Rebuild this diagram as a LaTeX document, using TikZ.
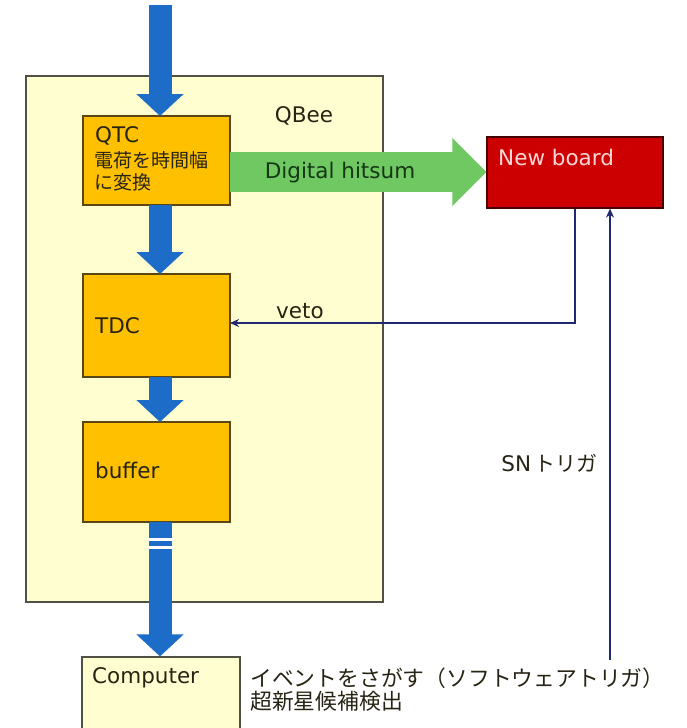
\documentclass[tikz,border=0pt]{standalone}
\usepackage{fontspec}
\setmainfont{DejaVu Sans}
\newfontfamily\jp{Noto Sans CJK JP}
\usetikzlibrary{arrows.meta}
\definecolor{qbeeF}{RGB}{255,254,208}
\definecolor{qbeeB}{RGB}{80,80,70}
\definecolor{orangeF}{RGB}{255,192,0}
\definecolor{orangeB}{RGB}{90,70,20}
\definecolor{blueA}{RGB}{28,108,200}
\definecolor{greenA}{RGB}{112,200,98}
\definecolor{redF}{RGB}{204,0,0}
\definecolor{redB}{RGB}{70,0,0}
\definecolor{navy}{RGB}{32,42,110}
\definecolor{txt}{RGB}{40,36,20}
\begin{document}
\begin{tikzpicture}[x=1pt,y=-1pt,
  lat/.style={font=\fontsize{21.5}{24}\selectfont, text=txt, inner sep=0pt},
  jtx/.style={font=\jp\fontsize{21.8}{24}\selectfont, text=txt, inner sep=0pt},
  box/.style={draw=orangeB, line width=1.2pt, fill=orangeF, inner sep=0pt, outer sep=0pt},
  bluearrow/.style={draw=blueA, line width=23pt, -{Triangle[width=46pt,length=22pt]}},
  greenarrow/.style={draw=greenA, line width=40pt, -{Triangle[width=66pt,length=34pt]}},
  sig/.style={draw=navy, line width=2pt, -{Stealth[length=9pt,width=8pt]}}
]
\useasboundingbox (0,0) rectangle (687,728);
% QBee container
\node[draw=qbeeB, line width=1.2pt, fill=qbeeF, minimum width=357pt, minimum height=526pt, inner sep=0pt] (qbee) at (204.5,339) {};
\node[lat] (qbeelbl) at (304,116) {QBee};
% blocks
\node[box, minimum width=147pt, minimum height=89pt] (qtc) at (156.5,160.5) {};
\node[box, minimum width=147pt, minimum height=103pt] (tdc) at (156.5,325.5) {};
\node[box, minimum width=147pt, minimum height=100pt] (buffer) at (156.5,472) {};
\node[draw=qbeeB, line width=1.2pt, fill=qbeeF, minimum width=158pt, minimum height=74pt, inner sep=0pt] (computer) at (161,694) {};
\node[draw=redB, line width=1.2pt, fill=redF, minimum width=176pt, minimum height=71pt, inner sep=0pt] (newboard) at (575,172.5) {};
% texts in blocks
\node[lat, anchor=west] (qtct) at (95,136) {QTC};
\node[font=\jp\fontsize{19}{21}\selectfont, text=txt, inner sep=0pt, anchor=west] (qtcj1) at (94,160) {電荷を時間幅};
\node[font=\jp\fontsize{19}{21}\selectfont, text=txt, inner sep=0pt, anchor=west] (qtcj2) at (94,182) {に変換};
\node[lat, anchor=west] (tdct) at (95,326) {TDC};
\node[lat, anchor=west] (buft) at (95,470) {buffer};
\node[lat, anchor=west] (compt) at (92,678) {Computer};
\node[lat, anchor=west, text={rgb,255:red,255;green,215;blue,215}] (nbt) at (498,157) {New board};
% blue arrows
\coordinate (ax) at (160,5);
\draw[bluearrow] (ax) -- (ax |- qtc.north);
\draw[bluearrow] (ax |- qtc.south) -- (ax |- tdc.north);
\draw[bluearrow] (ax |- tdc.south) -- (ax |- buffer.north);
\draw[bluearrow] (ax |- buffer.south) -- (ax |- computer.north);
\draw[white, line width=3pt] (147,539) -- (173,539);
\draw[white, line width=3pt] (147,547) -- (173,547);
% green arrow
\coordinate (gy) at (0,172);
\draw[greenarrow] (qtc.east |- gy) -- (newboard.west |- gy);
\node[lat, text={rgb,255:red,20;green,55;blue,20}] (hitsum) at (340,173) {Digital hitsum};
% veto
\coordinate (vx) at (575,323);
\draw[sig] (newboard.south -| vx) |- (tdc.east |- vx);
\node[lat] (vetot) at (300,311) {veto};
% SN trigger
\coordinate (sx) at (610,660);
\draw[sig] (sx) -- (sx |- newboard.south);
\node[lat, anchor=east] (snt) at (598,463) {SN\,{\jp\fontsize{21}{23}\selectfont トリガ}};
% computer side text
\node[jtx, anchor=west] (jp1) at (250,678) {イベントをさがす（ソフトウェアトリガ）};
\node[jtx, anchor=west] (jp2) at (250,701) {超新星候補検出};
\end{tikzpicture}
\end{document}
